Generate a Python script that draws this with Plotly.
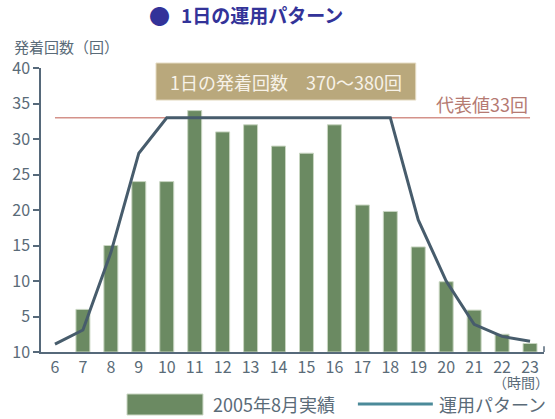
import plotly.graph_objects as go

hours = list(range(6, 24))
x_labels = [str(h) for h in hours]
actual_hours = list(range(7, 24))
actual_2005_08 = [6, 15, 24, 24, 34, 31, 32, 29, 28, 32, 20.7, 19.8, 14.8, 9.9, 5.9, 2.5, 1.2]
pattern = [1.1, 3.1, 14, 28, 33, 33, 33, 33, 33, 33, 33, 33, 33, 18.6, 10, 3.9, 2.2, 1.5]
y_ticks = [0, 5, 10, 15, 20, 25, 30, 35, 40]
y_tick_labels = ["10", "5", "10", "15", "20", "25", "30", "35", "40"]
rep_value = 33

FONT = "Noto Sans CJK JP"
AX = "#56697a"
TXT = "#5a6b78"
GREEN = "#6b8a62"
SLATE = "#475c6c"
TEAL = "#4b8a99"
RED = "#d4928a"

fig = go.Figure()
fig.add_trace(go.Bar(x=actual_hours, y=actual_2005_08, width=0.5,
                     marker=dict(color=GREEN, line=dict(color="#c9d6c2", width=1)),
                     showlegend=False))
fig.add_trace(go.Scatter(x=hours, y=pattern, mode="lines",
                         line=dict(color=SLATE, width=3), showlegend=False))

# reference line at 33
fig.add_shape(type="line", xref="x", yref="y", x0=6.0, x1=23.0, y0=rep_value, y1=rep_value,
              line=dict(color=RED, width=1.5), layer="below")
fig.add_annotation(xref="x", yref="y", x=23.0, y=34.9, text="代表値33回", showarrow=False,
                   xanchor="right", yanchor="middle", font=dict(family=FONT, size=18, color="#b57a72"))

# tan box
fig.add_shape(type="rect", xref="paper", yref="paper", x0=0.2286, x1=0.745, y0=0.887, y1=1.0176,
              fillcolor="#b9a87c", line=dict(color="#e6dcc4", width=1), layer="above")
fig.add_annotation(xref="paper", yref="paper", x=0.4868, y=0.952, text="1日の発着回数　370～380回",
                   showarrow=False, xanchor="center", yanchor="middle",
                   font=dict(family=FONT, size=18, color="#f7f2e8"))

# title
fig.add_annotation(xref="paper", yref="paper", x=0.2346, y=1.187, text="●",
                   showarrow=False, xanchor="center", yanchor="middle",
                   font=dict(family=FONT, size=21, color="#333399"))
fig.add_annotation(xref="paper", yref="paper", x=0.2743, y=1.187, text="<b>1日の運用パターン</b>",
                   showarrow=False, xanchor="left", yanchor="middle",
                   font=dict(family=FONT, size=19, color="#333399"))
# y-axis title
fig.add_annotation(xref="paper", yref="paper", x=-0.0577, y=1.077, text="発着回数（回）",
                   showarrow=False, xanchor="left", yanchor="middle",
                   font=dict(family=FONT, size=15, color=TXT))
# x unit
fig.add_annotation(xref="paper", yref="paper", x=0.954, y=-0.107, text="（時間）",
                   showarrow=False, xanchor="center", yanchor="middle",
                   font=dict(family=FONT, size=14, color=TXT))
# right end tick on x axis
fig.add_shape(type="line", xref="paper", yref="paper", x0=1.0, x1=1.0, y0=0, y1=0.02,
              line=dict(color=AX, width=1.5))

# manual legend
fig.add_shape(type="rect", xref="paper", yref="paper", x0=0.171, x1=0.322, y0=-0.2218, y1=-0.1479,
              fillcolor=GREEN, line=dict(color="#c9d6c2", width=1))
fig.add_annotation(xref="paper", yref="paper", x=0.338, y=-0.183, text="2005年8月実績",
                   showarrow=False, xanchor="left", yanchor="middle",
                   font=dict(family=FONT, size=18, color=TXT))
fig.add_shape(type="line", xref="paper", yref="paper", x0=0.630, x1=0.779, y0=-0.183, y1=-0.183,
              line=dict(color=TEAL, width=3))
fig.add_annotation(xref="paper", yref="paper", x=0.787, y=-0.183, text="運用パターン",
                   showarrow=False, xanchor="left", yanchor="middle",
                   font=dict(family=FONT, size=18, color=TXT))

fig.update_layout(
    width=555, height=419,
    margin=dict(l=41, r=11, t=68, b=67),
    plot_bgcolor="white", paper_bgcolor="white",
    font=dict(family=FONT, color=TXT),
    showlegend=False,
    bargap=0.5,
    xaxis=dict(range=[5.5, 23.5], tickmode="array", tickvals=hours, ticktext=x_labels,
               showgrid=False, zeroline=False, showline=True, linecolor=AX, linewidth=1.5,
               ticks="", tickfont=dict(family=FONT, size=16, color=TXT), fixedrange=True),
    yaxis=dict(range=[0, 40], tickmode="array", tickvals=y_ticks, ticktext=y_tick_labels,
               showgrid=False, zeroline=False, showline=True, linecolor=AX, linewidth=1.5,
               ticks="outside", ticklen=6, tickcolor=AX, tickwidth=1.5,
               tickfont=dict(family=FONT, size=16, color=TXT), fixedrange=True),
)

fig.write_html("out.html", config={"displayModeBar": False},
               post_script="document.body.style.margin='0';document.body.style.overflow='hidden';")
